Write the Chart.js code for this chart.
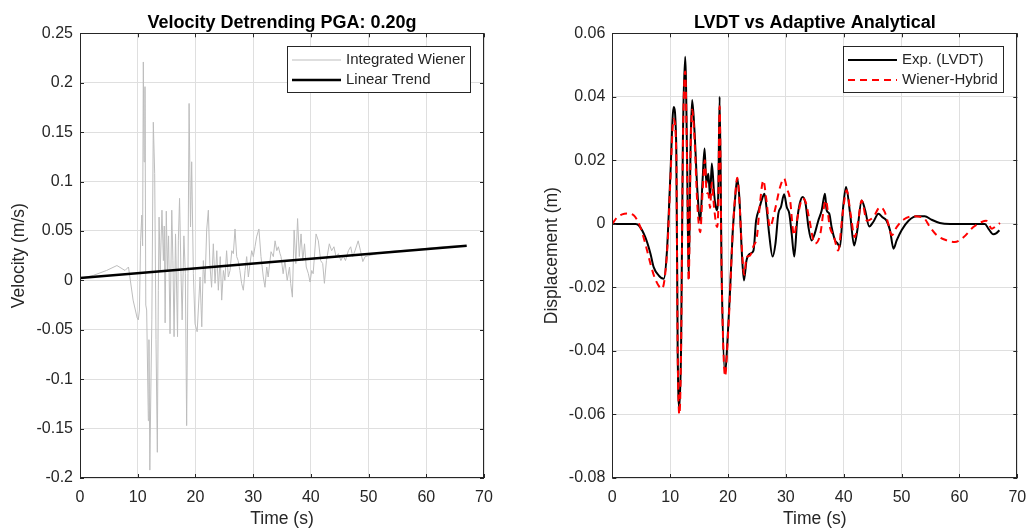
<!DOCTYPE html>
<html>
<head>
<meta charset="utf-8">
<title>Velocity detrending / LVDT vs analytical</title>
<script src="https://cdn.jsdelivr.net/npm/chart.js@4.4.1/dist/chart.umd.min.js"></script>
<style>
  html, body { margin: 0; padding: 0; background: #fff; }
  #wrap { position: relative; width: 1027px; height: 530px; overflow: hidden; }
  canvas { position: absolute; top: 0; }
  #velChart { left: 0; }
  #dispChart { left: 513px; }
</style>
</head>
<body>
<div id="wrap">
  <canvas id="velChart" width="500" height="530"></canvas>
  <canvas id="dispChart" width="514" height="530"></canvas>
</div>
<script>
// ---- left panel: integrated velocity (m/s) ----
const velTime = [
  0, 2.3, 4.6, 6.4, 7.8, 8.4, 9.2, 9.9, 10.1, 10.3, 10.5, 10.7, 10.85, 10.97, 11.1, 11.26,
  11.4, 11.55, 11.84, 11.95, 12.1, 12.3, 12.45, 12.7, 12.94, 13.17, 13.4, 13.57, 13.7, 13.9,
  14.2, 14.45, 14.6, 14.75, 14.95, 15.15, 15.35, 15.6, 15.9, 16.1, 16.3, 16.55, 16.9, 17.04,
  17.25, 17.5, 17.7, 18.0, 18.25, 18.48, 18.71, 18.9, 19.15, 19.35, 19.64, 19.93, 20.3, 20.8,
  21.1, 21.37, 21.66, 21.95, 22.24, 22.5, 22.8, 23.1, 23.4, 23.7, 23.97, 24.3, 24.55, 24.84,
  25.1, 25.4, 25.7, 26.0, 26.3, 26.57, 26.86, 27.15, 27.4, 27.7, 28.0, 28.3, 28.6, 28.88,
  29.17, 29.46, 29.75, 30.03, 30.32, 30.6, 31.0, 31.36, 31.76, 32.05, 32.35, 32.6, 33.1, 33.5,
  33.8, 34.1, 34.37, 34.66, 34.83, 35.2, 35.5, 35.9, 36.3, 36.5, 36.8, 37.1, 37.4, 37.7,
  38.0, 38.3, 38.6, 38.9, 39.2, 39.57, 39.86, 40.15, 40.4, 40.9, 41.3, 41.7, 42.05, 42.35,
  42.7, 43.2, 43.6, 44.0, 44.36, 44.77, 45.2, 45.6, 46.0, 46.5, 46.9, 47.25, 47.65, 48.2,
  48.6, 49.0, 49.4, 50.0, 50.8, 52, 55, 58, 61, 64, 67
];
const velValue = [
  0.002, 0.005, 0.010, 0.015, 0.010, 0.0135, -0.020, -0.038, -0.040, -0.030, 0.040, 0.066, 0.035, 0.221, 0.120, 0.196,
  -0.025, -0.030, -0.142, -0.060, -0.192, -0.100, -0.040, 0.160, 0.108, -0.060, -0.174, -0.010, 0.064, 0.010,
  0.071, 0.020, 0.055, -0.043, 0.070, 0.010, 0.045, -0.054, 0.071, 0.020, -0.057, 0.047, -0.057, 0.040,
  0.083, 0.007, -0.040, 0.045, 0.007, -0.147, 0.007, 0.179, 0.054, 0.120, 0.007, -0.044, -0.052, 0.0034,
  -0.047, 0.020, -0.003, 0.051, 0.071, 0.017, -0.007, 0.037, -0.003, 0.030, -0.010, 0.024, -0.020, 0.010,
  0.000, 0.030, 0.0034, 0.010, 0.030, 0.027, 0.052, 0.024, 0.020, 0.010, -0.003, -0.010, 0.010, 0.024,
  0.0034, 0.017, 0.030, 0.024, 0.034, 0.044, 0.052, 0.024, 0.0034, -0.007, 0.0135, 0.0034, 0.029, 0.024,
  0.040, 0.030, 0.034, 0.027, 0.024, 0.0067, 0.020, 0.000, 0.0135, -0.003, -0.017, 0.051, 0.017, 0.0625,
  0.024, 0.047, 0.020, 0.037, 0.0135, 0.0067, -0.0017, 0.010, 0.0067, 0.047, 0.040, 0.020, 0.017, -0.003,
  0.020, 0.037, 0.030, 0.034, 0.024, 0.027, 0.020, 0.025, 0.020, 0.030, 0.034, 0.024, 0.030, 0.040,
  0.030, 0.019, 0.024, 0.025, 0.026, 0.028, 0.030, 0.031, 0.033, 0.0345, 0.035
];
const trendTime = [0, 67];
const trendValue = [0.0025, 0.035];

// ---- right panel: displacement (m) ----
const expTime = [
  0, 1, 2, 3, 4, 4.6, 5.7, 6.6, 7.15, 8.0, 8.9, 9.45, 10.0, 10.6, 11.06, 11.3, 11.6, 11.9,
  12.2, 12.6, 12.96, 13.2, 13.55, 13.8, 14.2, 14.7, 15.2, 15.6, 15.95, 16.25, 16.6, 16.9,
  17.2, 17.6, 18.0, 18.3, 18.55, 18.9, 19.5, 19.9, 20.3, 20.8, 21.2, 21.6, 21.95, 22.4,
  22.75, 23.2, 23.8, 24.4, 24.85, 25.4, 26.0, 26.3, 26.7, 27.1, 27.7, 28.2, 28.7, 29.15,
  29.7, 30.15, 30.6, 31.0, 31.45, 31.95, 32.4, 32.9, 33.4, 33.9, 34.45, 35.0, 35.6, 36.2,
  36.75, 37.05, 37.5, 37.9, 38.5, 38.95, 39.35, 39.9, 40.4, 41.1, 41.8, 42.35, 43.1, 43.7,
  44.4, 45.1, 46.0, 46.7, 47.4, 48.0, 48.6, 49.15, 50.0, 51.2, 52.6, 54.0, 55.2, 56.6,
  58.4, 61.8, 64.4, 65.0, 65.85, 66.4, 66.9
];
const expDisp = [
  0, 0, 0, 0, 0, -0.0005, -0.0042, -0.0094, -0.0136, -0.0162, -0.0173, -0.0084, 0.0137, 0.0368, 0.0242, -0.040, -0.058, -0.037,
  0.026, 0.0526, 0.0158, -0.0173, 0.0263, 0.039, 0.0295, 0.0106, 0.001, 0.0137, 0.0237, 0.0127, 0.0158, 0.0085,
  0.019, 0.0095, 0.0043, 0.0085, 0.040, -0.0157, -0.047, -0.037, -0.023, -0.003, 0.0074, 0.0143, 0.0085, -0.0094,
  -0.0178, -0.0115, -0.0094, -0.0084, 0.001, 0.0048, 0.0085, 0.0095, 0.0043, -0.003, -0.0103, -0.0062, 0.0032, 0.0053,
  0.0093, 0.0053, 0.0032, -0.003, -0.0103, 0.001, 0.0064, 0.0085, 0.0064, -0.001, -0.0052, -0.003, 0.001, 0.0043,
  0.0095, 0.0043, 0.0032, -0.001, -0.0052, -0.0062, -0.0073, 0.0053, 0.0116, 0.0032, -0.0068, -0.002, 0.0074, 0.0043,
  -0.0008, 0.0006, 0.0032, 0.0021, 0.001, -0.002, -0.0078, -0.0052, -0.002, 0.001, 0.0024, 0.0024, 0.0013, 0.0003,
  0, 0, 0, -0.0015, -0.0033, -0.0029, -0.002
];
const wienerTime = [
  0, 0.8, 1.7, 2.5, 3.7, 4.85, 5.7, 6.6, 7.4, 8.6, 9.15, 9.6, 10.0, 10.6, 11.06, 11.3, 11.6, 11.9,
  12.2, 12.6, 12.96, 13.2, 13.55, 13.8, 14.2, 14.7, 15.2, 15.6, 16.0, 16.3, 16.6, 16.9,
  17.2, 17.6, 18.1, 18.3, 18.55, 18.9, 19.5, 19.9, 20.3, 20.8, 21.2, 21.6, 21.95, 22.4,
  22.8, 23.2, 23.8, 24.4, 25.0, 25.5, 26.1, 26.6, 27.25, 28.1, 29.0, 29.7, 30.2, 30.7,
  31.4, 32.0, 32.9, 33.4, 34.0, 35.0, 35.9, 36.9, 37.6, 38.3, 39.05, 39.8, 40.5, 41.2,
  41.9, 42.5, 43.1, 44.0, 45.1, 46.3, 47.1, 47.7, 48.3, 49.15, 50.3, 52.0, 53.75, 54.9,
  56.1, 57.8, 59.2, 60.7, 62.4, 63.85, 64.6, 65.6, 66.1, 67.0
];
const wienerDisp = [
  0, 0.002, 0.003, 0.0033, 0.0027, -0.001, -0.0062, -0.0126, -0.0173, -0.0204, -0.0157, -0.005, 0.012, 0.033, 0.022, -0.040, -0.060, -0.038,
  0.024, 0.048, 0.014, -0.018, 0.024, 0.036, 0.027, 0.006, -0.0026, 0.010, 0.020, 0.010, 0.0095, 0.005,
  0.013, 0.005, -0.001, 0.004, 0.037, -0.016, -0.048, -0.038, -0.024, -0.003, 0.008, 0.0145, 0.008, -0.008,
  -0.016, -0.0105, -0.010, -0.007, -0.004, 0.006, 0.0137, 0.008, -0.001, 0.0043, 0.0116, 0.0143, 0.011, 0.008,
  -0.0036, 0.002, 0.008, 0.007, 0.002, -0.0062, -0.0036, 0.0074, -0.001, -0.004, -0.0084, 0.003, 0.0106, 0.003,
  -0.0042, 0.001, 0.0074, 0.001, 0.0021, 0.0053, 0.0037, 0, -0.0036, -0.001, 0.0013, 0.0024, 0.002, -0.001,
  -0.0036, -0.0052, -0.0057, -0.0042, -0.001, 0.0006, 0.001, -0.0015, -0.001, 0.0003
];

const AXIS = '#262626';
const GRID = '#dfdfdf';
const FONT = '"Liberation Sans", Arial, Helvetica, sans-serif';
Chart.defaults.font.family = FONT;
Chart.defaults.color = AXIS;

const pairs = (xs, ys) => xs.map((x, i) => ({ x, y: ys[i] }));
const trim = v => String(parseFloat(Number(v).toFixed(4)));

// matlab style: closed box with short inward ticks on all four sides
const boxPlugin = {
  id: 'boxAxes',
  afterDatasetsDraw(chart) {
    const { ctx, chartArea: a, scales: { x, y } } = chart;
    const len = 4;
    ctx.save();
    ctx.strokeStyle = AXIS;
    ctx.lineWidth = 1;
    ctx.beginPath();
    x.ticks.forEach(t => {
      const px = Math.round(x.getPixelForValue(t.value)) + 0.5;
      ctx.moveTo(px, a.bottom); ctx.lineTo(px, a.bottom - len);
      ctx.moveTo(px, a.top); ctx.lineTo(px, a.top + len);
    });
    y.ticks.forEach(t => {
      const py = Math.round(y.getPixelForValue(t.value)) + 0.5;
      ctx.moveTo(a.left, py); ctx.lineTo(a.left + len, py);
      ctx.moveTo(a.right, py); ctx.lineTo(a.right - len, py);
    });
    ctx.stroke();
    ctx.strokeRect(Math.round(a.left) + 0.5, Math.round(a.top) + 0.5,
      Math.round(a.width) - 1, Math.round(a.height) - 1);
    ctx.restore();
  }
};

// legend box in the top-right corner of the axes
const boxLegend = {
  id: 'boxLegend',
  afterDraw(chart) {
    const { ctx, chartArea: a } = chart;
    const sets = chart.data.datasets;
    ctx.save();
    ctx.font = '15px ' + FONT;
    const textW = Math.max(...sets.map(d => ctx.measureText(d.label).width));
    const w = Math.round(5 + 49 + 5 + textW + 5), h = 46;
    const left = Math.round(a.right - 14 - w), top = Math.round(a.top + 13);
    ctx.fillStyle = '#fff';
    ctx.fillRect(left, top, w, h);
    ctx.strokeStyle = AXIS;
    ctx.lineWidth = 1;
    ctx.strokeRect(left + 0.5, top + 0.5, w, h);
    sets.forEach((d, i) => {
      const cy = top + 14 + i * 20;
      ctx.beginPath();
      ctx.setLineDash(d.borderDash || []);
      ctx.strokeStyle = d.borderColor;
      ctx.lineWidth = d.borderWidth;
      ctx.moveTo(left + 5, cy);
      ctx.lineTo(left + 54, cy);
      ctx.stroke();
      ctx.setLineDash([]);
      ctx.fillStyle = AXIS;
      ctx.textBaseline = 'middle';
      ctx.fillText(d.label, left + 59, cy);
    });
    ctx.restore();
  }
};

function makeScales(yMin, yMax, yStep, yTitle, yTitlePad, yWidth) {
  return {
    x: {
      type: 'linear', min: 0, max: 70,
      ticks: { stepSize: 10, padding: 10, maxRotation: 0, font: { size: 16 }, color: AXIS, callback: trim },
      grid: { color: GRID, drawTicks: false },
      border: { display: false },
      title: { display: true, text: 'Time (s)', font: { size: 17.5 }, color: AXIS, padding: { top: 0, bottom: 0 } },
      afterFit: s => {
        s.height = 52;
        // let the end labels hang into the layout padding
        s.paddingLeft = 0;
        s.paddingRight = 0;
      }
    },
    y: {
      type: 'linear', min: yMin, max: yMax,
      ticks: { stepSize: yStep, padding: 7, font: { size: 16 }, color: AXIS, callback: trim },
      grid: { color: GRID, drawTicks: false },
      border: { display: false },
      title: { display: true, text: yTitle, font: { size: 17.5 }, color: AXIS, padding: { top: yTitlePad, bottom: 0 } },
      afterFit: s => { s.width = yWidth; }
    }
  };
}

function titleOpts(text) {
  return {
    display: true, text, fullSize: false, color: '#000',
    font: { size: 18, weight: 'bold', lineHeight: 1.1 },
    padding: { top: 13.5, bottom: 0 }
  };
}

new Chart(document.getElementById('velChart'), {
  type: 'line',
  data: {
    datasets: [
      { label: 'Integrated Wiener', data: pairs(velTime, velValue), borderColor: '#bdbdbd', borderWidth: 1, pointRadius: 0, tension: 0, order: 2 },
      { label: 'Linear Trend', data: pairs(trendTime, trendValue), borderColor: '#000000', borderWidth: 2.5, pointRadius: 0, order: 1 }
    ]
  },
  options: {
    responsive: false,
    animation: false,
    layout: { padding: { left: 0, right: 16, top: 0, bottom: 0 } },
    plugins: {
      legend: { display: false },
      tooltip: { enabled: false },
      title: titleOpts('Velocity Detrending PGA: 0.20g')
    },
    scales: makeScales(-0.2, 0.25, 0.05, 'Velocity (m/s)', 9, 80)
  },
  plugins: [boxPlugin, boxLegend]
});

new Chart(document.getElementById('dispChart'), {
  type: 'line',
  data: {
    datasets: [
      { label: 'Exp. (LVDT)', data: pairs(expTime, expDisp), borderColor: '#000000', borderWidth: 2, pointRadius: 0, cubicInterpolationMode: 'monotone', order: 2 },
      { label: 'Wiener-Hybrid', data: pairs(wienerTime, wienerDisp), borderColor: '#ff0000', borderWidth: 2, borderDash: [7, 5], pointRadius: 0, cubicInterpolationMode: 'monotone', order: 1 }
    ]
  },
  options: {
    responsive: false,
    animation: false,
    layout: { padding: { left: 0, right: 9.7, top: 0, bottom: 0 } },
    plugins: {
      legend: { display: false },
      tooltip: { enabled: false },
      title: titleOpts('LVDT vs Adaptive Analytical')
    },
    scales: makeScales(-0.08, 0.06, 0.02, 'Displacement (m)', 28.5, 99.3)
  },
  plugins: [boxPlugin, boxLegend]
});
</script>
</body>
</html>
